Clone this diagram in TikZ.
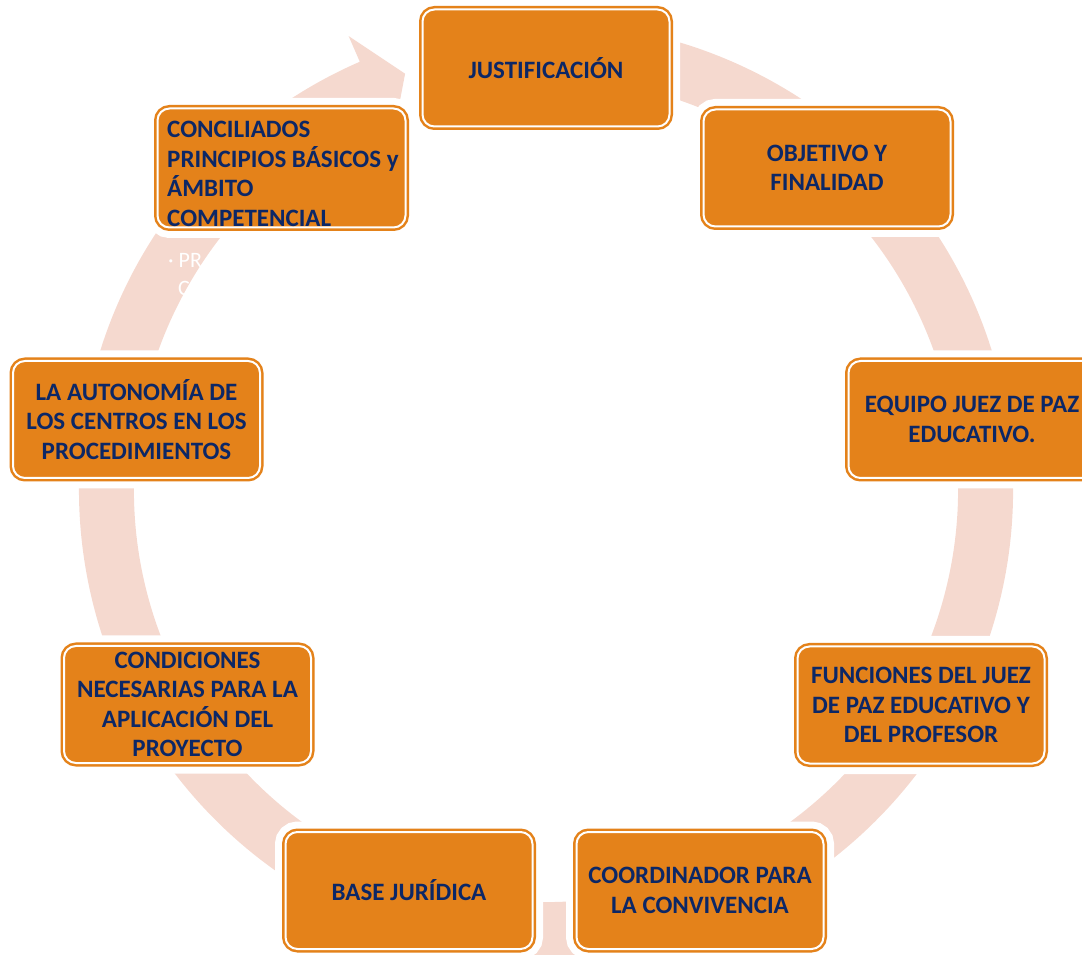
\documentclass[tikz,border=0pt]{standalone}
\usepackage{fontspec}
\setmainfont{Carlito}
\definecolor{boxor}{HTML}{E4821A}
\definecolor{ringc}{HTML}{F5D9CF}
\definecolor{navy}{HTML}{0C2766}
\begin{document}
\begin{tikzpicture}[x=1pt,y=1pt,
  box/.style={rounded corners=12pt, fill=boxor, draw=boxor, line width=7pt,
    preaction={draw=white, line width=21pt},
    postaction={draw=white, line width=2pt},
    inner sep=0pt, text=navy, font=\fontsize{25}{29.5}\selectfont\bfseries, align=center,
    minimum width=247pt, minimum height=117pt},
  boxtext/.style={inner sep=0pt, text=navy, font=\fontsize{25}{29.5}\selectfont\bfseries},
  ghost/.style={inner sep=0pt, text=white, font=\fontsize{22}{26}\selectfont, anchor=west}
]
\path[use as bounding box] (0,0) rectangle (1082,954);
\coordinate (C) at (546,464);
% circular arrow
\begin{scope}[shift={(C)}]
\fill[ringc] (100:467) arc[start angle=100, end angle=-246.5, radius=467pt]
  -- (-246.5:495) -- (-251.3:439.5) -- (-246.5:384) -- (-246.5:412)
  arc[start angle=-246.5, end angle=100, radius=412pt] -- cycle;
\end{scope}
% overflow text in white
\node[ghost] (g1) at (168,694) {· PR};
\node[ghost] (g2) at (178,666) {C};
% boxes
\node[box] (just) at (546,886) {JUSTIFICACIÓN};
\node[box] (obj) at (827,786) {OBJETIVO Y\\FINALIDAD};
\node[box] (equipo) at (972,534.5) {EQUIPO JUEZ DE PAZ\\EDUCATIVO.};
\node[box] (func) at (921,249) {FUNCIONES DEL JUEZ\\DE PAZ EDUCATIVO Y\\DEL PROFESOR};
\node[box] (coord) at (700,63.5) {COORDINADOR PARA\\LA CONVIVENCIA};
\node[box] (base) at (409,63.5) {BASE JURÍDICA};
\node[box] (cond) at (187.5,249.5) {CONDICIONES\\NECESARIAS PARA LA\\APLICACIÓN DEL\\PROYECTO};
\node[box] (auto) at (136.5,534.5) {LA AUTONOMÍA DE\\LOS CENTROS EN LOS\\PROCEDIMIENTOS};
\node[box, minimum width=248pt, minimum height=119pt] (conc) at (281.5,786) {};
\node[boxtext, align=left, anchor=west] (conctext) at (167,780)
  {CONCILIADOS\\PRINCIPIOS BÁSICOS y\\ÁMBITO\\COMPETENCIAL};
\end{tikzpicture}
\end{document}
